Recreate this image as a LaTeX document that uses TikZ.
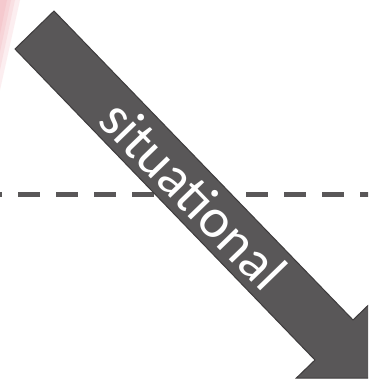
\documentclass[tikz,border=0pt]{standalone}
\usepackage{fontspec}
\setmainfont{Carlito}
\definecolor{arrowgray}{RGB}{89,87,88}
\definecolor{edgegray}{RGB}{62,60,61}
\definecolor{blush}{RGB}{236,140,150}

\begin{document}
\begin{tikzpicture}
  [x=1pt, y=-1pt,
   bigarrow/.style={fill=arrowgray, draw=edgegray, line width=1pt, line join=miter},
   divider/.style={draw=arrowgray, line width=5pt, dash pattern=on 22pt off 16pt},
   haze/.style={fill=blush, opacity=.14},
   wordlabel/.style={text=white, font=\fontsize{56}{60}\selectfont, rotate=-45.9, inner sep=0pt}]

  \fill[white, use as bounding box] (0,0) rectangle (368,380);
  \clip (0,0) rectangle (368,380);

  \fill[haze] (0,0) -- (20,0) -- (0,90) -- cycle;
  \fill[haze] (0,0) -- (15,0) -- (0,70) -- cycle;
  \fill[haze] (0,0) -- (11,0) -- (0,52) -- cycle;
  \fill[haze] (0,0) -- (7,0) -- (0,34) -- cycle;

  \coordinate (dashstart) at (-20,194);
  \coordinate (dashend) at (390,194);
  \draw[divider] (dashstart) -- (dashend);

  \coordinate (tailtop) at (54,11);
  \coordinate (tailbot) at (15,49);
  \coordinate (necktop) at (353,320);
  \coordinate (neckbot) at (315,360);
  \coordinate (barbtop) at (371.6,302);
  \coordinate (barbbot) at (296.4,378);
  \coordinate (tip) at (371.4,378);

  \draw[bigarrow] (tailtop) -- (necktop) -- (barbtop) -- (tip) -- (barbbot) -- (neckbot) -- (tailbot) -- cycle;

  \node[wordlabel] (situational) at (193.7,194.6) {situational};
\end{tikzpicture}
\end{document}
